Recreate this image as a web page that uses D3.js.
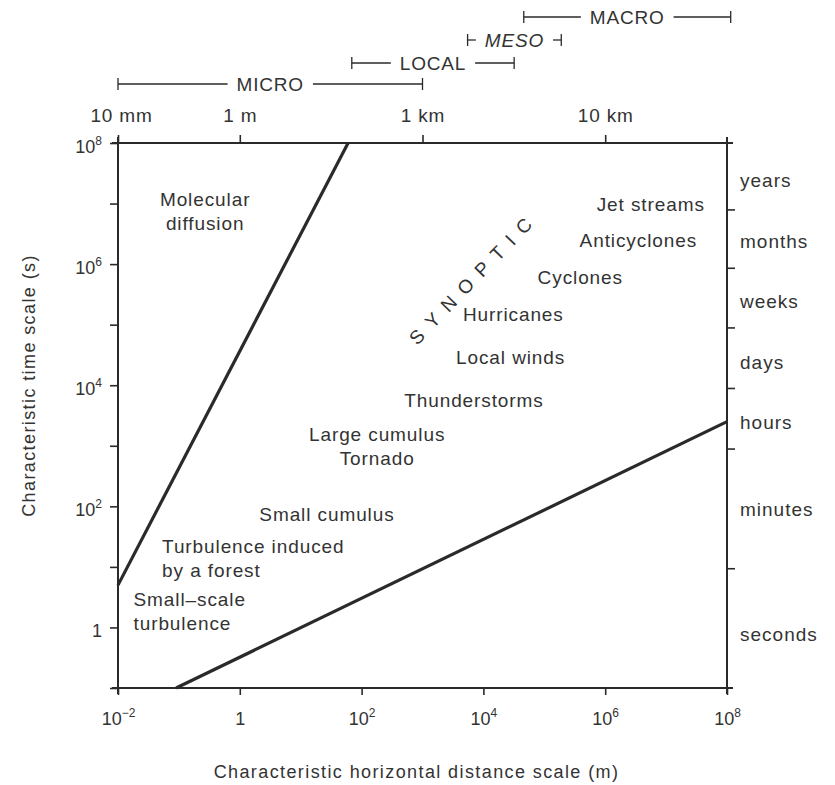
<!DOCTYPE html>
<html>
<head>
<meta charset="utf-8">
<script src="https://cdn.jsdelivr.net/npm/d3@7"></script>
<style>
  body { margin: 0; background: #fff; }
  text { font-family: "Liberation Sans", Arial, sans-serif; fill: #333; }
</style>
</head>
<body>
<div id="chart"></div>
<script>
// distance (m) and time (s) ticks
const bottomTicks = [1e-2, 1, 1e2, 1e4, 1e6, 1e8];
const leftTicks = [1e8, 1e7, 1e6, 1e5, 1e4, 1e3, 1e2, 1e1, 1, 1e-1];
const leftLabeled = [1e8, 1e6, 1e4, 1e2, 1];
const topTickValues = [1e-2, 1, 1e3, 1e6];
const topTickLabels = ['10 mm', '1 m', '1 km', '10 km'];

// right axis: time periods
const periodTicks = [8e6, 8.7e5, 9e4, 9e3, 900, 9.5];
const periodNames = ['years', 'months', 'weeks', 'days', 'hours', 'minutes', 'seconds'];
const periodTimes = [2.4e7, 2.4e6, 2.4e5, 2.4e4, 2.4e3, 90, 0.78];

// scale ranges on top (m)
const rangeNames = ['MICRO', 'LOCAL', 'MESO', 'MACRO'];
const rangeFrom = [1e-2, 69, 5.5e3, 4.6e4];
const rangeTo = [1e3, 3.2e4, 1.9e5, 1.15e8];

// boundary lines [distance m, time s]
const diffusionLine = [[1e-2, 5], [60, 1e8]];
const lowerLine = [[0.09, 0.1], [1e8, 2500]];

// phenomena labels: position in distance (m) / time (s)
const phenomena = ['Molecular\ndiffusion', 'Jet streams', 'Anticyclones', 'Cyclones', 'Hurricanes',
  'Local winds', 'Thunderstorms', 'Large cumulus\nTornado', 'Small cumulus',
  'Turbulence induced\nby a forest', 'Small\u2013scale\nturbulence'];
const phenX = [0.27, 5.6e6, 3.5e6, 3.9e5, 3.1e4, 2.8e4, 7e3, 180, 27, 0.053, 0.018];
const phenT = [9.1e6, 7.6e6, 1.9e6, 4.7e5, 1.15e5, 2.2e4, 4.4e3, 1.2e3, 58, 17, 2.3];
const leftAligned = ['Turbulence induced\nby a forest', 'Small\u2013scale\nturbulence'];
const synoptic = {label: 'SYNOPTIC', x: 7e3, t: 6e5};

const W = 835, H = 785;
const svg = d3.select('#chart').append('svg')
  .attr('width', W)
  .attr('height', H);

const x = d3.scaleLog().domain([1e-2, 1e8]).range([118, 727]);
const y = d3.scaleLog().domain([1e-1, 1e8]).range([688, 143]);
const ink = '#2a2a2a';
const txt = '#333';

function supLabel(sel, v) {
  sel.text(null);
  const e = Math.round(Math.log10(v));
  if (e === 0) { sel.append('tspan').text('1'); return; }
  sel.append('tspan').text('10');
  sel.append('tspan').attr('dy', -8).style('font-size', '12px').text(e < 0 ? '\u2212' + (-e) : e);
}

// frame, slightly overshooting at the corners
const [x0, x1] = x.range();
const [y0, y1] = [y(1e8), y(1e-1)];
const frame = svg.append('g').attr('stroke', ink).attr('stroke-width', 2);
frame.append('line').attr('x1', x0 - 6).attr('x2', x1 + 6).attr('y1', y0).attr('y2', y0);
frame.append('line').attr('x1', x0 - 6).attr('x2', x1 + 6).attr('y1', y1).attr('y2', y1);
frame.append('line').attr('x1', x0).attr('x2', x0).attr('y1', y0 - 6).attr('y2', y1 + 6);
frame.append('line').attr('x1', x1).attr('x2', x1).attr('y1', y0 - 6).attr('y2', y1 + 6);

// bottom axis
const bottomAxis = svg.append('g').attr('transform', `translate(0,${y1})`)
  .call(d3.axisBottom(x).tickValues(bottomTicks).tickSize(7).tickPadding(17));
bottomAxis.selectAll('text').style('font-size', '18px').each(function(d) { supLabel(d3.select(this), d); });

// left axis
const leftAxis = svg.append('g').attr('transform', `translate(${x0},0)`)
  .call(d3.axisLeft(y).tickValues(leftTicks).tickSize(8).tickPadding(8));
leftAxis.selectAll('text').style('font-size', '18px').attr('dy', '0.5em').each(function(d) {
  if (leftLabeled.includes(d)) supLabel(d3.select(this), d); else d3.select(this).text(null);
});

// top axis
const topAxis = svg.append('g').attr('transform', `translate(0,${y0})`)
  .call(d3.axisTop(x).tickValues(topTickValues).tickSize(8).tickPadding(13)
    .tickFormat((d, i) => topTickLabels[i]));
topAxis.selectAll('text').style('font-size', '19px').style('letter-spacing', '0.8px')
  .attr('dx', (d, i) => i === 0 ? 3 : 0);

// right axis: periods
const rightAxis = svg.append('g').attr('transform', `translate(${x1},0)`)
  .call(d3.axisRight(y).tickValues(periodTicks).tickSize(8).tickFormat(''));

[bottomAxis, leftAxis, topAxis, rightAxis].forEach(g => {
  g.select('.domain').remove();
  g.selectAll('line').attr('stroke', ink).attr('stroke-width', 1.6);
  g.selectAll('text').attr('fill', txt).style('font-family', '"Liberation Sans", Arial, sans-serif');
});

svg.append('g').selectAll('text')
  .data(periodNames)
  .join('text')
  .attr('x', x1 + 13)
  .attr('y', (d, i) => y(periodTimes[i]))
  .attr('dy', '0.35em')
  .style('font-size', '19px')
  .style('letter-spacing', '1px')
  .text(d => d);

// scale ranges at top
const rowY = [84, 63, 40, 17];
rangeNames.forEach((name, i) => {
  const g = svg.append('g').attr('stroke', ink).attr('stroke-width', 1.3);
  const a = x(rangeFrom[i]), b = x(rangeTo[i]);
  const mid = (a + b) / 2, yy = rowY[i];
  const t = g.append('text')
    .attr('x', mid).attr('y', yy).attr('dy', '0.35em')
    .attr('text-anchor', 'middle')
    .attr('stroke', 'none')
    .style('font-size', '19px')
    .style('letter-spacing', '0.8px')
    .style('font-style', name === 'MESO' ? 'italic' : 'normal')
    .text(name);
  const half = t.node().getComputedTextLength() / 2 + 9;
  g.append('line').attr('x1', a).attr('x2', mid - half).attr('y1', yy).attr('y2', yy);
  g.append('line').attr('x1', mid + half).attr('x2', b).attr('y1', yy).attr('y2', yy);
  g.append('line').attr('x1', a).attr('x2', a).attr('y1', yy - 6).attr('y2', yy + 6);
  g.append('line').attr('x1', b).attr('x2', b).attr('y1', yy - 6).attr('y2', yy + 6);
});

// boundary lines
const line = d3.line().x(d => x(d[0])).y(d => y(d[1]));
svg.append('g').selectAll('path')
  .data([diffusionLine, lowerLine])
  .join('path')
  .attr('d', line)
  .attr('fill', 'none')
  .attr('stroke', ink)
  .attr('stroke-width', 3.2);

// phenomena labels
svg.append('g').selectAll('text')
  .data(phenomena)
  .join('text')
  .attr('x', (d, i) => x(phenX[i]))
  .attr('y', (d, i) => y(phenT[i]))
  .attr('text-anchor', d => leftAligned.includes(d) ? 'start' : 'middle')
  .style('font-size', '19px')
  .style('letter-spacing', '0.9px')
  .each(function(d) {
    const el = d3.select(this);
    d.split('\n').forEach((s, k) => {
      el.append('tspan').attr('x', el.attr('x')).attr('dy', k ? 24 : 0).text(s);
    });
  });

svg.append('text')
  .attr('transform', `translate(${x(synoptic.x)},${y(synoptic.t)}) rotate(-46)`)
  .attr('text-anchor', 'middle')
  .attr('dy', '0.35em')
  .style('font-size', '19px')
  .style('letter-spacing', '10px')
  .text(synoptic.label);

// axis titles
svg.append('text')
  .attr('x', (x0 + x1) / 2 - 6).attr('y', 778)
  .attr('text-anchor', 'middle')
  .style('font-size', '18px')
  .style('letter-spacing', '1.4px')
  .text('Characteristic horizontal distance scale (m)');

svg.append('text')
  .attr('transform', `translate(35,${(y0 + y1) / 2 - 30}) rotate(-90)`)
  .attr('text-anchor', 'middle')
  .style('font-size', '18px')
  .style('letter-spacing', '1.4px')
  .text('Characteristic time scale (s)');
</script>
</body>
</html>
